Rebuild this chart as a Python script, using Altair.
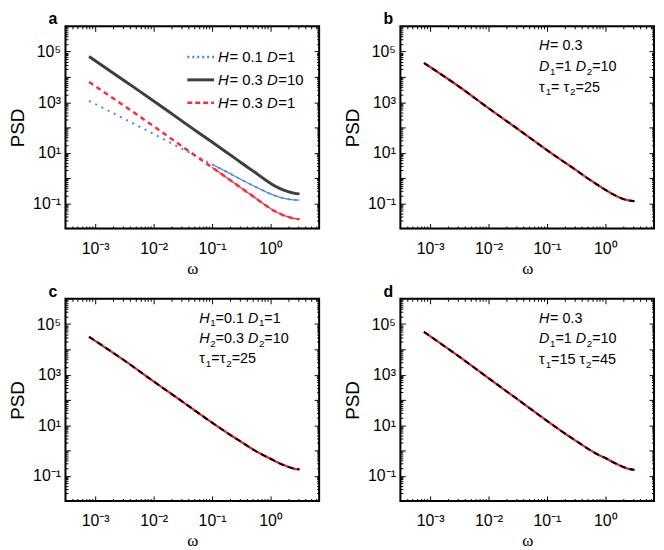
import math
import altair as alt
import pandas as pd

# angular frequency grid shared by all curves
omega = [7.85e-4, 3.2e-3, 0.01, 0.032, 0.1, 0.2, 0.32, 0.5, 0.8, 1.0, 1.26, 1.6, 2.0, 2.5, 3.14]

# panel a
psd_h01_d1 = [1.12e3, 214, 55.0, 13.5, 3.47, 1.51, 0.851, 0.501, 0.295, 0.234, 0.191, 0.162, 0.145, 0.135, 0.132]
psd_h03_d10 = [6.46e4, 6.92e3, 1.12e3, 166, 26.3, 8.51, 3.89, 1.91, 0.871, 0.617, 0.447, 0.347, 0.288, 0.251, 0.234]
psd_h03_d1 = [6.3e3, 692, 112, 16.6, 2.63, 0.851, 0.389, 0.191, 0.0871, 0.0617, 0.0447, 0.0347, 0.0288, 0.0251, 0.0234]
# panels b-d (red = simulation, black dashed = theory, on top of each other)
psd_b = [3.55e4, 3.98e3, 575, 85.1, 12.6, 4.17, 2.0, 0.955, 0.468, 0.339, 0.245, 0.186, 0.148, 0.129, 0.120]
psd_c = [3.16e4, 3.55e3, 537, 81.3, 12.6, 4.27, 2.14, 1.10, 0.603, 0.468, 0.355, 0.275, 0.224, 0.191, 0.178]
psd_d = [4.90e4, 5.01e3, 724, 102, 14.8, 4.79, 2.34, 1.17, 0.631, 0.501, 0.372, 0.282, 0.224, 0.186, 0.170]

x_major = [1e-3, 1e-2, 1e-1, 1.0]
x_labels = ['10⁻³', '10⁻²', '10⁻¹', '10⁰']
y_major = [1e-1, 10.0, 1e3, 1e5]
y_labels = ['10⁻¹', '10¹', '10³', '10⁵']
y_even = [1.0, 1e2, 1e4]

legend_a = [
    [('H', 'it'), ('= 0.1 ', 'n'), ('D', 'it'), ('=1', 'n')],
    [('H', 'it'), ('= 0.3 ', 'n'), ('D', 'it'), ('=10', 'n')],
    [('H', 'it'), ('= 0.3 ', 'n'), ('D', 'it'), ('=1', 'n')],
]
note_b = [
    [('H', 'it'), ('= 0.3', 'n')],
    [('D', 'it'), ('1', 'sub'), ('=1 ', 'n'), ('D', 'it'), ('2', 'sub'), ('=10', 'n')],
    [('τ', 'n'), ('1', 'sub'), ('= ', 'n'), ('τ', 'n'), ('2', 'sub'), ('=25', 'n')],
]
note_c = [
    [('H', 'it'), ('1', 'sub'), ('=0.1 ', 'n'), ('D', 'it'), ('1', 'sub'), ('=1', 'n')],
    [('H', 'it'), ('2', 'sub'), ('=0.3 ', 'n'), ('D', 'it'), ('2', 'sub'), ('=10', 'n')],
    [('τ', 'n'), ('1', 'sub'), ('=', 'n'), ('τ', 'n'), ('2', 'sub'), ('=25', 'n')],
]
note_d = [
    [('H', 'it'), ('= 0.3', 'n')],
    [('D', 'it'), ('1', 'sub'), ('=1 ', 'n'), ('D', 'it'), ('2', 'sub'), ('=10', 'n')],
    [('τ', 'n'), ('1', 'sub'), ('=15 ', 'n'), ('τ', 'n'), ('2', 'sub'), ('=45', 'n')],
]

FONT = 'Liberation Sans'
W, H = 256, 204
X_DOMAIN = [3.1e-4, 6.8]
Y_DOMAIN = [1e-2, 1e6]
BLUE, GRAY, RED = '#4d84ec', '#3e4040', '#ff2b3c'

x_minor = [m * 10.0 ** e for e in range(-4, 1) for m in range(2, 10)
           if X_DOMAIN[0] < m * 10.0 ** e < X_DOMAIN[1]]
y_minor = [m * 10.0 ** e for e in range(-2, 6) for m in range(2, 10)]
y_all = sorted(y_major + y_even)


def label_expr(values, labels):
    expr = "''"
    for v, lab in zip(values, labels):
        expr = "round(log(datum.value) / LN10) == %d ? '%s' : %s" % (round(math.log10(v)), lab, expr)
    return expr


## inward ticks: push the axis into the plot by its own tick length
## (mirrored ticks: same orient, pushed across the whole plot)
def ax(orient, values, size, offset=None, labels=None, label_pad=5, title_font=None,
       title_size=None, title_pad=None):
    kw = dict(orient=orient, values=values, tickSize=size,
              offset=-size if offset is None else offset, domain=False, grid=False,
              tickColor='black', tickWidth=1)
    if labels is None:
        kw['labels'] = False
    else:
        kw.update(labelExpr=label_expr(values, labels), labelFont=FONT, labelFontSize=16,
                  labelColor='black', labelPadding=label_pad, labelOverlap=False, labelFlush=False,
                  titleFont=title_font, titleFontSize=title_size, titleFontWeight='normal',
                  titleColor='black', titlePadding=title_pad)
    return alt.Axis(**kw)


def enc(xaxis, yaxis, xtitle=None, ytitle=None):
    return dict(
        x=alt.X('omega:Q', scale=alt.Scale(type='log', domain=X_DOMAIN), axis=xaxis, title=xtitle),
        y=alt.Y('psd:Q', scale=alt.Scale(type='log', domain=Y_DOMAIN), axis=yaxis, title=ytitle),
    )


CW = {'H': .722, 'D': .722, '=': .584, ' ': .278, '.': .278, 'τ': .46}


def text_layers(lines, x0, y0, dy, size):
    layers = []
    for i, segs in enumerate(lines):
        x, y = x0, y0 + i * dy
        for txt, kind in segs:
            fs = size * 0.68 if kind == 'sub' else size
            yy = y + size * 0.32 if kind == 'sub' else y
            layers.append(
                alt.Chart(pd.DataFrame({'t': [txt]})).mark_text(
                    x=x, y=yy, align='left', baseline='middle', font=FONT, fontSize=fs,
                    fontStyle='italic' if kind == 'it' else 'normal', color='black'
                ).encode(text='t:N'))
            x += sum(CW.get(c, .556) for c in txt) * fs + (0.04 * fs if kind == 'it' else 0)
    return layers


def panel(letter, curves, extras):
    df0, style0 = curves[0]
    main = alt.Chart(df0).mark_line(**style0).encode(**enc(
        ax('bottom', x_major, 5, labels=x_labels, label_pad=12, title_font='Liberation Serif',
           title_size=17, title_pad=4),
        ax('left', y_major, 5, labels=y_labels, title_font=FONT, title_size=19, title_pad=5),
        'ω', 'PSD'))
    hidden = alt.Chart(df0).mark_line(strokeOpacity=0)
    minor = hidden.encode(**enc(ax('bottom', x_minor, 2.5), ax('left', y_minor, 2.5)))
    even = hidden.encode(**enc(None, ax('left', y_even, 5)))
    mirror = hidden.encode(**enc(ax('bottom', x_major, 5, offset=-H), ax('left', y_all, 5, offset=-W)))
    mirror_minor = hidden.encode(**enc(ax('bottom', x_minor, 2.5, offset=-H),
                                       ax('left', y_minor, 2.5, offset=-W)))
    rest = [alt.Chart(d).mark_line(**s).encode(**enc(None, None)) for d, s in curves[1:]]
    box = alt.Chart(pd.DataFrame({'k': [0]})).mark_rect(
        fillOpacity=0, stroke='black', strokeWidth=2
    ).encode(x=alt.value(0), x2=alt.value(W), y=alt.value(0), y2=alt.value(H))
    return alt.layer(main, minor, even, mirror, mirror_minor, *rest, *extras, box).resolve_axis(
        x='independent', y='independent'
    ).properties(
        width=W, height=H,
        title=alt.TitleParams(letter, anchor='start', frame='group', dx=-17, font=FONT,
                              fontSize=16, fontWeight='bold', color='black', offset=-2)
    )


def frame(vals):
    return pd.DataFrame({'omega': omega, 'psd': vals})


def tail(vals):
    d = frame(vals)
    return d[d['omega'] >= 0.1]


## panel a: three spectra plus hand-made legend
legend_styles = [dict(color=BLUE, strokeDash=[2, 3], strokeWidth=2.5),
                 dict(color=GRAY, strokeWidth=3),
                 dict(color=RED, strokeDash=[5, 3], strokeWidth=2.5)]
legend_rules = [
    alt.Chart(pd.DataFrame({'k': [i]})).mark_rule(**s).encode(
        x=alt.value(123), x2=alt.value(150), y=alt.value(31 + 23 * i))
    for i, s in enumerate(legend_styles)
]
chart_a = panel('a', [
    (frame(psd_h03_d10), dict(color=GRAY, strokeWidth=3, interpolate='monotone')),
    (frame(psd_h01_d1), dict(color=BLUE, strokeDash=[2, 5], strokeWidth=2, interpolate='monotone')),
    (tail(psd_h01_d1), dict(color=BLUE, strokeWidth=1.3, interpolate='monotone')),
    (frame(psd_h03_d1), dict(color=RED, strokeDash=[5, 4], strokeWidth=2.5, interpolate='monotone')),
    (tail(psd_h03_d1), dict(color=RED, strokeWidth=1.3, interpolate='monotone')),
], legend_rules + text_layers(legend_a, 154, 31, 23, 15))


def pair(vals):
    return [(frame(vals), dict(color='#f21b1b', strokeWidth=2.2, interpolate='monotone')),
            (frame(vals), dict(color='black', strokeDash=[6, 4], strokeWidth=2, interpolate='monotone'))]


chart_b = panel('b', pair(psd_b), text_layers(note_b, 140, 20, 21, 14.5))
chart_c = panel('c', pair(psd_c), text_layers(note_c, 135, 20, 20.5, 14.5))
chart_d = panel('d', pair(psd_d), text_layers(note_d, 140, 20, 21, 14.5))

chart = alt.vconcat(
    alt.hconcat(chart_a, chart_b, spacing=22),
    alt.hconcat(chart_c, chart_d, spacing=22),
    spacing=6
).properties(padding=0)

chart.save('out.html', embed_options={'renderer': 'svg', 'actions': False})
